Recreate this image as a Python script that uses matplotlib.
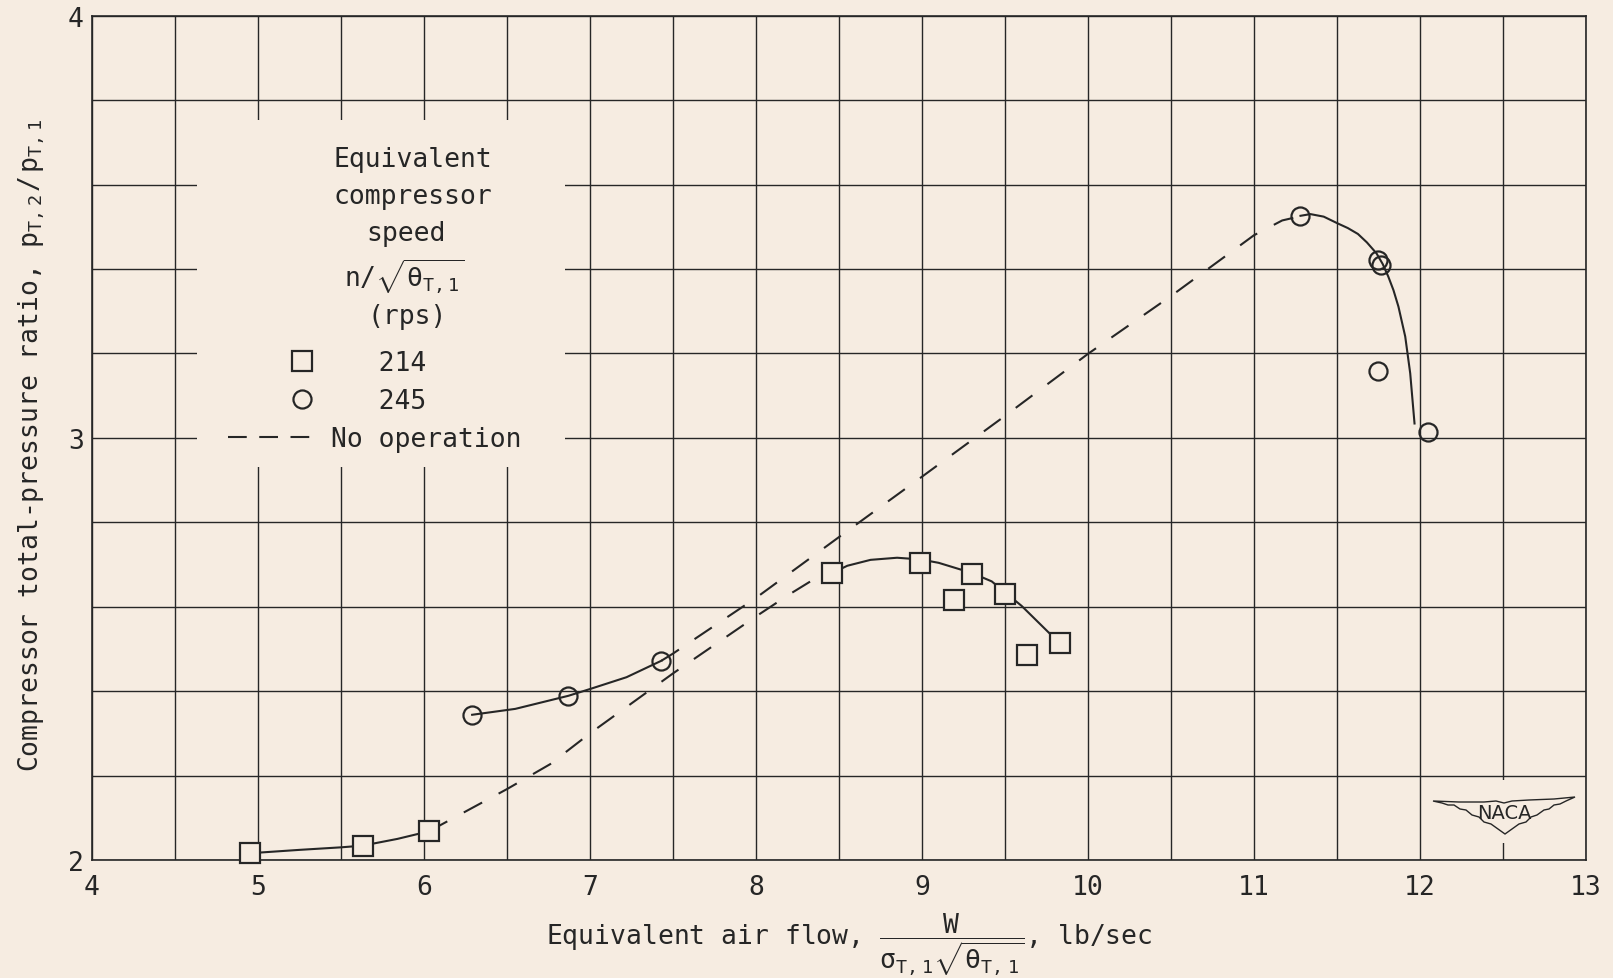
import numpy as np
import matplotlib
matplotlib.use("Agg")
import matplotlib.pyplot as plt
from matplotlib.lines import Line2D
from matplotlib.legend_handler import HandlerLine2D
from matplotlib.patches import Rectangle, Polygon

# --- values --------------------------------------------------------------
# test points, 214 rps
sq_x = [4.95, 5.63, 6.03, 8.46, 8.99, 9.30, 9.19, 9.50, 9.63, 9.83]
sq_y = [2.016, 2.034, 2.068, 2.680, 2.703, 2.677, 2.616, 2.630, 2.485, 2.513]
# test points, 245 rps
ci_x = [6.29, 6.87, 7.43, 11.28, 11.748, 11.764, 11.744, 12.049]
ci_y = [2.344, 2.389, 2.472, 3.525, 3.421, 3.409, 3.159, 3.014]

# faired curves, 214 rps
c214_low_x = [4.95, 5.25, 5.50, 5.63, 5.84, 6.03]
c214_low_y = [2.016, 2.024, 2.030, 2.034, 2.050, 2.068]
c214_high_x = [8.46, 8.55, 8.69, 8.85, 8.99, 9.10, 9.30, 9.42, 9.50, 9.60, 9.83]
c214_high_y = [2.680, 2.697, 2.711, 2.716, 2.712, 2.704, 2.680, 2.660, 2.634, 2.602, 2.513]
# no operation, 214 rps
n214_x = [6.03, 6.50, 6.76, 7.00, 7.50, 8.00, 8.20, 8.39, 8.46]
n214_y = [2.068, 2.168, 2.227, 2.300, 2.442, 2.577, 2.629, 2.675, 2.680]

# faired curves, 245 rps
c245_low_x = [6.29, 6.55, 6.87, 7.00, 7.22, 7.43]
c245_low_y = [2.344, 2.358, 2.389, 2.405, 2.433, 2.472]
c245_high_x = [11.28, 11.34, 11.42, 11.504, 11.565, 11.626, 11.68, 11.738,
               11.775, 11.809, 11.840, 11.870, 11.911, 11.941, 11.967]
c245_high_y = [3.526, 3.530, 3.524, 3.508, 3.497, 3.483, 3.463, 3.437,
               3.412, 3.382, 3.350, 3.311, 3.240, 3.153, 3.034]
# no operation, 245 rps
n245_x = [7.43, 7.50, 8.00, 8.50, 9.00, 9.50, 10.00, 10.50, 11.00, 11.17, 11.28]
n245_y = [2.472, 2.489, 2.621, 2.765, 2.908, 3.052, 3.199, 3.336, 3.480, 3.515, 3.525]

x_ticks = [4, 5, 6, 7, 8, 9, 10, 11, 12, 13]
x_minor = [4.5, 5.5, 6.5, 7.5, 8.5, 9.5, 10.5, 11.5, 12.5]
y_ticks = [2, 3, 4]
y_minor = [2.2, 2.4, 2.6, 2.8, 3.2, 3.4, 3.6, 3.8]

legend_title = ["Equivalent", "compressor", "speed", r"$n/\sqrt{\theta_{T,1}}$", "(rps)"]
legend_labels = ["   214", "   245", "No operation"]

PAPER = "#f6ece1"
INK = "#262626"

plt.rcParams["font.family"] = "DejaVu Sans Mono"
plt.rcParams["mathtext.fontset"] = "custom"
plt.rcParams["mathtext.rm"] = "DejaVu Sans Mono"
plt.rcParams["mathtext.it"] = "DejaVu Sans Mono"
plt.rcParams["mathtext.default"] = "rm"

W, H = 1613, 979
fig = plt.figure(figsize=(W / 100, H / 100), dpi=100, facecolor=PAPER)
ax = fig.add_axes([92 / W, 1 - 861 / H, (1586 - 92) / W, (861 - 16.7) / H])
ax.set_facecolor(PAPER)
ax.set_xlim(4, 13)
ax.set_ylim(2, 4)
ax.set_xticks(x_ticks)
ax.set_xticks(x_minor, minor=True)
ax.set_yticks(y_ticks)
ax.set_yticks(y_minor, minor=True)
ax.tick_params(which="both", length=0, labelsize=19, colors=INK)
ax.tick_params(axis="x", pad=10)
ax.tick_params(axis="y", pad=6)
ax.set_axisbelow(True)
ax.grid(which="both", color=INK, lw=1.0)
for s in ax.spines.values():
    s.set_color(INK)
    s.set_linewidth(1.2)

# cleared paper behind the key and the emblem
ax.add_patch(Rectangle((4.63, 2.931), 6.85 - 4.63, 3.752 - 2.931,
                       facecolor=PAPER, edgecolor="none", zorder=1))
ax.add_patch(Rectangle((12.45, 2.04), 0.1, 0.15,
                       facecolor=PAPER, edgecolor="none", zorder=1))

lw = 1.5
dash = (10, 9)
ax.plot(c214_low_x, c214_low_y, color=INK, lw=lw, zorder=3)
ax.plot(c214_high_x, c214_high_y, color=INK, lw=lw, zorder=3)
ax.plot(c245_low_x, c245_low_y, color=INK, lw=lw, zorder=3)
ax.plot(c245_high_x, c245_high_y, color=INK, lw=lw, zorder=3)
ax.plot(n214_x, n214_y, color=INK, lw=lw, dashes=dash, zorder=3)
ax.plot(n245_x, n245_y, color=INK, lw=lw, dashes=dash, zorder=3)

ax.plot(sq_x, sq_y, ls="none", marker="s", ms=14, mfc=PAPER, mec=INK, mew=1.6,
        zorder=4, clip_on=False)
ax.plot(ci_x, ci_y, ls="none", marker="o", ms=13, mfc="none", mec=INK, mew=1.6,
        zorder=4, clip_on=False)

# key
title_y = [0.830, 0.786, 0.743, 0.692, 0.644]
title_x = [0.215, 0.215, 0.210, 0.209, 0.211]
for t, tx, ty in zip(legend_title, title_x, title_y):
    ax.text(tx, ty, t, transform=ax.transAxes, ha="center", va="center",
            fontsize=19, color=INK, zorder=5)


class MarkerRight(HandlerLine2D):
    def create_artists(self, legend, orig_handle, xdescent, ydescent,
                       width, height, fontsize, trans):
        return super().create_artists(legend, orig_handle, xdescent - 0.33 * width,
                                      ydescent, width, height, fontsize, trans)


h_sq = Line2D([], [], ls="none", marker="s", ms=14, mfc="none", mec=INK, mew=1.6)
h_ci = Line2D([], [], ls="none", marker="o", ms=13, mfc="none", mec=INK, mew=1.6)
h_no = Line2D([], [], color=INK, lw=lw, dashes=(9, 6))
leg = ax.legend([h_sq, h_ci, h_no], legend_labels, loc="upper left",
                bbox_to_anchor=(0.091, 0.604), frameon=False, borderpad=0,
                borderaxespad=0, handlelength=3.4, handletextpad=0.5,
                labelspacing=0.46, fontsize=19, labelcolor=INK,
                handler_map={h_sq: MarkerRight(), h_ci: MarkerRight()})
leg.set_zorder(5)

# NACA emblem (outline in pixels about its centre)
cx, cy = (1504 - 92) / 1494, (861 - 815) / 844.3
wing = [(-71, 13), (-45, 12), (-20, 12), (-8, 13), (0, 11), (8, 13), (25, 14),
        (50, 15), (71, 17), (62, 13), (56, 10), (50, 9), (45, 5), (40, 4),
        (33, -1), (27, -3), (22, -8), (15, -10), (8, -15), (1, -20),
        (-6, -15), (-13, -10), (-20, -8), (-25, -3), (-32, -1), (-38, 4),
        (-44, 5), (-50, 9), (-56, 9), (-62, 11)]
ax.add_patch(Polygon([(cx + a / 1494, cy + b / 844.3) for a, b in wing],
                     closed=True, transform=ax.transAxes, facecolor=PAPER,
                     edgecolor=INK, lw=1.0, zorder=5))
ax.text(cx, cy + 1.5 / 844.3, "NACA", transform=ax.transAxes, ha="center",
        va="center", fontsize=14, family="DejaVu Sans", color=INK, zorder=6)

fig.text(31 / W, 1 - 445 / H,
         r"Compressor total-pressure ratio, $p_{T,\,2}\,/\,p_{T,\,1}$",
         rotation=90, ha="center", va="center", fontsize=19, color=INK)
fig.text(849 / W, 1 - 945 / H,
         r"Equivalent air flow, $\dfrac{W}{\sigma_{T,\,1}\sqrt{\theta_{T,\,1}}}$, lb/sec",
         ha="center", va="baseline", fontsize=19, color=INK)

fig.savefig("out.png", dpi=100, facecolor=PAPER)
